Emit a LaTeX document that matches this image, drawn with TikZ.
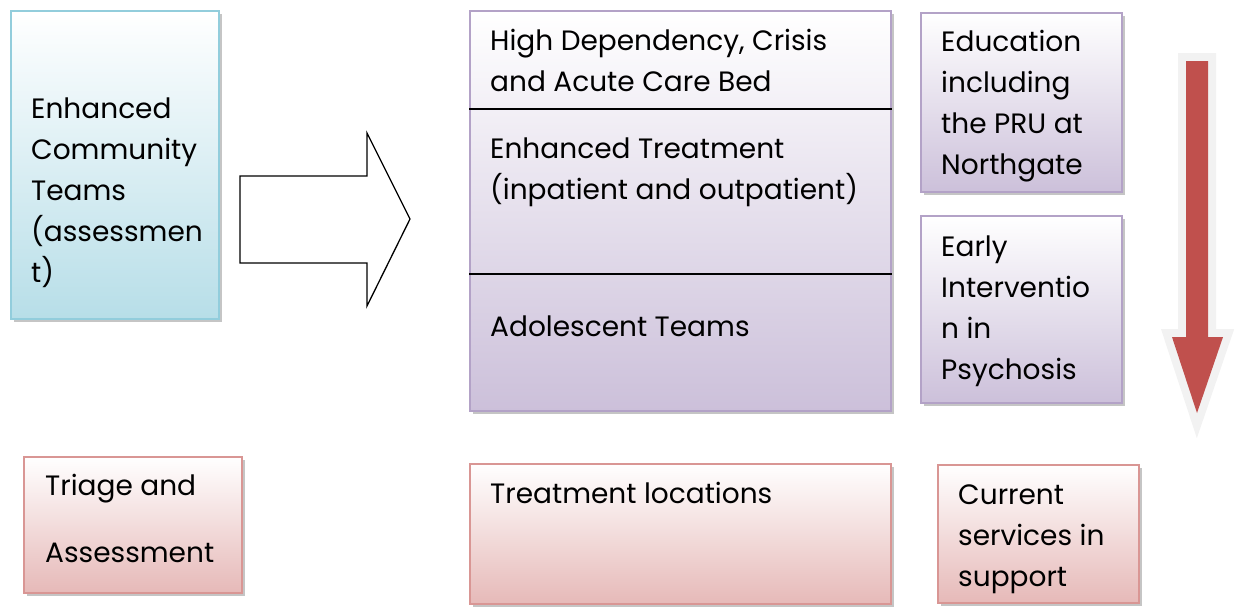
\documentclass[tikz,border=0pt]{standalone}
\usepackage{fontspec}
\setmainfont{Poppins}
\usetikzlibrary{shadows,calc}

\definecolor{bordblue}{HTML}{92CDDC}
\definecolor{fillblue}{HTML}{B7DEE8}
\definecolor{bordpurple}{HTML}{B3A2C7}
\definecolor{fillpurple}{HTML}{CCC0DA}
\definecolor{bordpink}{HTML}{D99694}
\definecolor{fillpink}{HTML}{E6B9B8}
\definecolor{arrowred}{HTML}{C0504D}
\definecolor{halo}{HTML}{F2F2F2}

\newcommand{\boxfont}{\fontsize{28}{41}\selectfont}

\tikzset{
    panel/.style={rectangle, anchor=north west, inner sep=0pt, line width=2pt,
        drop shadow={shadow xshift=3pt, shadow yshift=-3pt, fill=black!45}},
    bluepanel/.style={panel, draw=bordblue, top color=white, bottom color=fillblue},
    purplepanel/.style={panel, draw=bordpurple, top color=white, bottom color=fillpurple},
    pinkpanel/.style={panel, draw=bordpink, top color=white, bottom color=fillpink},
    % multi-line text sits on the baseline of its last line
    boxtext/.style={anchor=base west, align=left, inner sep=0pt, font=\boxfont}
}

\begin{document}
\begin{tikzpicture}[x=1pt, y=-1pt]
    \useasboundingbox (0,0) rectangle (1241,606);

    % left column
    \node (ect) [bluepanel, minimum width=208pt, minimum height=308pt] at (10,10) {};
    \node (ecttxt) [boxtext] at (31,282) {Enhanced\\Community\\Teams\\(assessmen\\t)};

    \node (triage) [pinkpanel, minimum width=218pt, minimum height=136pt] at (23,456) {};
    \node (triagetxt) [boxtext, font=\fontsize{28}{67}\selectfont] at (45,562) {Triage and\\Assessment};

    % hollow arrow between the columns
    \draw [line width=1.3pt, fill=white, line join=miter]
        (240,176) -- (367,176) -- (367,133) -- (410,219) -- (367,306) -- (367,263) -- (240,263) -- cycle;

    % care levels, one box split in three
    \node (beds) [purplepanel, minimum width=421pt, minimum height=400pt] at (469,10) {};
    \draw [line width=1.3pt] ($(beds.north west)+(0,99)$) -- ($(beds.north east)+(0,99)$);
    \draw [line width=1.3pt] ($(beds.north west)+(0,264)$) -- ($(beds.north east)+(0,264)$);
    \node (hdtxt) [boxtext] at (490,91) {High Dependency, Crisis\\and Acute Care Bed};
    \node (enhtxt) [boxtext] at (490,199) {Enhanced Treatment\\(inpatient and outpatient)};
    \node (adoltxt) [boxtext] at (490,336) {Adolescent Teams};

    \node (locs) [pinkpanel, minimum width=421pt, minimum height=140pt] at (469,463) {};
    \node (locstxt) [boxtext] at (490,503) {Treatment locations};

    % support services
    \node (edu) [purplepanel, minimum width=201pt, minimum height=179pt] at (920,12) {};
    \node (edutxt) [boxtext] at (941,174) {Education\\including\\the PRU at\\Northgate};

    \node (eip) [purplepanel, minimum width=201pt, minimum height=187pt] at (920,215) {};
    \node (eiptxt) [boxtext] at (941,379) {Early\\Interventio\\n in\\Psychosis};

    \node (cur) [pinkpanel, minimum width=201pt, minimum height=138pt] at (937,464) {};
    \node (curtxt) [boxtext] at (958,586) {Current\\services in\\support};

    % red down arrow on the right
    \fill [black!45] (1189,64) -- (1211,64) -- (1211,340) -- (1226,340) -- (1200,416) -- (1175,340) -- (1189,340) -- cycle;
    \draw [halo, line width=16pt, line join=miter]
        (1186,61) -- (1208,61) -- (1208,337) -- (1223,337) -- (1197,413) -- (1172,337) -- (1186,337) -- cycle;
    \fill [arrowred]
        (1186,61) -- (1208,61) -- (1208,337) -- (1223,337) -- (1197,413) -- (1172,337) -- (1186,337) -- cycle;
\end{tikzpicture}
\end{document}
